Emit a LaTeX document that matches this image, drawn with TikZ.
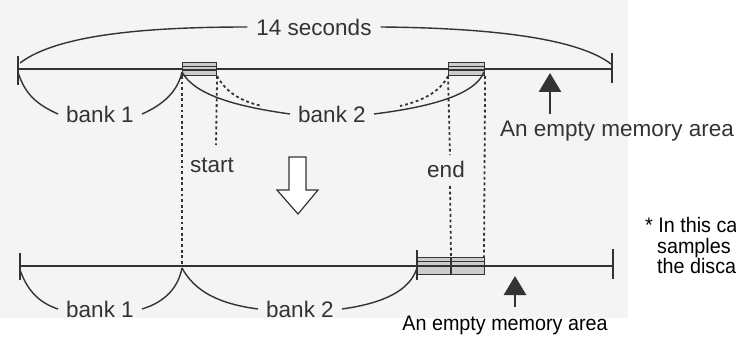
\documentclass[tikz,border=0pt]{standalone}
\usepackage{fontspec}
\setmainfont{Liberation Sans}
\newfontfamily\narrowfont[FakeStretch=0.94]{Liberation Sans}
\usetikzlibrary{arrows.meta}
\definecolor{scanbg}{HTML}{F4F4F4}
\definecolor{ink}{HTML}{333333}
\tikzset{
  bline/.style={draw=ink, line width=1.7pt},
  brk/.style={draw=ink, line width=1.4pt},
  dots/.style={draw=ink, line width=1.8pt, dash pattern=on 2.8pt off 2.8pt},
  lbl/.style={text=ink, font=\fontsize{22.5}{26}\selectfont, inner sep=0pt},
  nlbl/.style={text=black, font=\narrowfont\fontsize{21}{24}\selectfont, inner sep=0pt},
  memcell/.style={draw=ink, line width=1.1pt, fill=gray!40},
  uparrow/.style={draw=ink, line width=2.8pt, -{Triangle[width=22pt,length=19pt]}},
}
\begin{document}
\begin{tikzpicture}[x=1pt,y=-1pt]
\useasboundingbox (0,0) rectangle (736,339);
\fill[scanbg] (0,0) rectangle (628,318);

% ---------- top timeline ----------
\coordinate (tL) at (18,69);
\coordinate (tR) at (612,69);
\draw[bline] (tL) -- (tR);
\draw[bline] (18,56) -- (18,85);
\draw[bline] (612,53) -- (612,83);

% memory cells on top line
\node[memcell, minimum width=34pt, minimum height=13pt, anchor=north west] (c1) at (182,62) {};
\node[memcell, minimum width=36pt, minimum height=13pt, anchor=north west] (c2) at (448,62) {};
\draw[ink, line width=0.9pt] (c1.west |- 0,66) -- (c1.east |- 0,66);
\draw[ink, line width=0.9pt] (c2.west |- 0,66) -- (c2.east |- 0,66);
\draw[bline] (c1.west |- 0,70) -- (c1.east |- 0,70);
\draw[bline] (c2.west |- 0,70) -- (c2.east |- 0,70);

% 14 seconds
\node[lbl] (sec) at (314,27) {14 seconds};
\draw[brk] (20,63) .. controls (58,34) and (150,27) .. ([xshift=-9pt]sec.west);
\draw[brk] ([xshift=9pt]sec.east) .. controls (500,28) and (580,40) .. (611,64);

% bank labels top
\node[lbl] (b1t) at (100,114) {bank 1};
\node[lbl] (b2t) at (332,114) {bank 2};
\coordinate (s1) at (182,72);
\coordinate (e1) at (484,72);
\draw[brk] (18,72) .. controls (25,95) and (38,105) .. ([xshift=-8pt]b1t.west);
\draw[brk] ([xshift=8pt]b1t.east) .. controls (165,104) and (178,90) .. (s1);
\draw[brk] (s1) .. controls (195,96) and (240,107) .. ([xshift=-8pt]b2t.west);
\draw[brk] ([xshift=8pt]b2t.east) .. controls (430,107) and (475,95) .. (e1);
\draw[dots] (c1.south east) .. controls (226,92) and (240,101) .. (262,106);
\draw[dots] (c2.south west) .. controls (440,92) and (422,101) .. (400,106);

% up arrow + label (top)
\coordinate (a1s) at (550,114);
\coordinate (a1e) at (550,73);
\draw[uparrow] (a1s) -- (a1e);
\node[lbl, anchor=west] (emt) at (500,131) {An empty memory area};

% start / end
\node[lbl] (start) at (212,165) {start};
\node[lbl] (endl) at (446,169) {end};

% hollow arrow
\draw[ink, line width=1.2pt, fill=white, line join=miter]
  (289,157) -- (306,157) -- (306,190) -- (318,190) -- (298,214)
  -- (277,190) -- (289,190) -- cycle;

% ---------- bottom timeline ----------
\coordinate (bL) at (20,266);
\coordinate (bR) at (613,266);
\draw[bline] (bL) -- (bR);
\draw[bline] (20,253) -- (20,280);
\draw[bline] (613,249) -- (613,279);

\node[memcell, minimum width=67pt, minimum height=17pt, anchor=north west] (c3) at (417,257) {};
\draw[ink, line width=0.9pt] (c3.west |- 0,261) -- (c3.east |- 0,261);
\draw[bline] (c3.west |- 0,266) -- (c3.east |- 0,266);
\draw[bline] (451,257) -- (451,274);
\draw[bline] (417,250) -- (417,280);

% dotted guides
\draw[dots] (c1.south west) -- (182,266);
\draw[dots] (c1.south east) -- (216,145);
\draw[dots] (c2.south west) -- (450,155);
\draw[dots] (450,186) -- (451,257);
\draw[dots] (c2.south east) -- (484,257);

% bank labels bottom
\node[lbl] (b1b) at (100,309) {bank 1};
\node[lbl] (b2b) at (300,309) {bank 2};
\coordinate (s2) at (182,268);
\coordinate (e2) at (417,268);
\draw[brk] (20,270) .. controls (28,292) and (40,303) .. ([xshift=-8pt]b1b.west);
\draw[brk] ([xshift=8pt]b1b.east) .. controls (165,302) and (178,288) .. (s2);
\draw[brk] (s2) .. controls (195,292) and (220,304) .. ([xshift=-8pt]b2b.west);
\draw[brk] ([xshift=8pt]b2b.east) .. controls (385,303) and (410,290) .. (e2);

% bottom up arrow + label
\coordinate (a2s) at (515,307);
\coordinate (a2e) at (515,276);
\draw[uparrow] (a2s) -- (a2e);
\node[nlbl] (emb) at (505,325) {An empty memory area};

% side note (as cut in the reference)
\node[nlbl, anchor=base west] (n1) at (645,233) {* In this ca};
\node[nlbl, anchor=base west] (n2) at (657,253) {samples};
\node[nlbl, anchor=base west] (n3) at (657,273) {the disca};
\end{tikzpicture}
\end{document}
